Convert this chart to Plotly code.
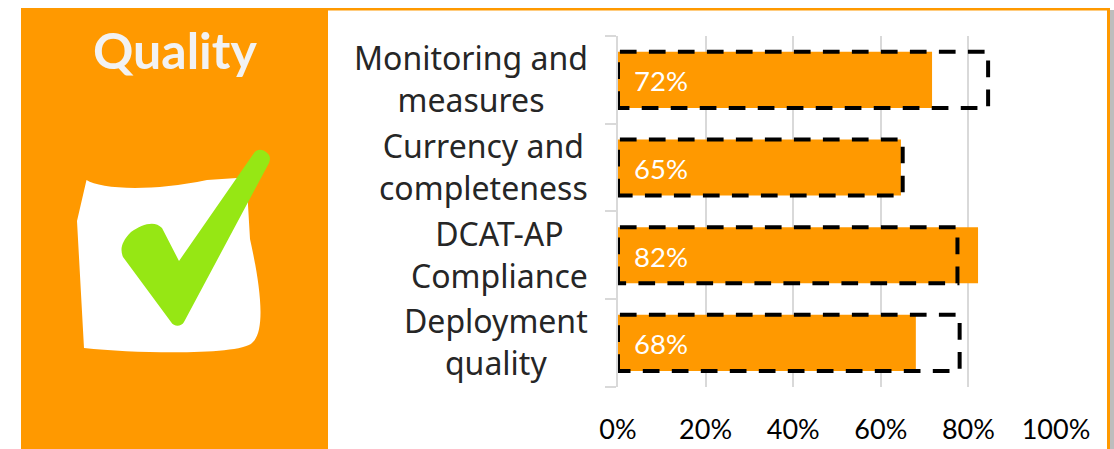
import plotly.graph_objects as go

W, H = 1114, 449
categories = ["Monitoring and<br>measures", "Currency and<br>completeness", "DCAT-AP<br>Compliance", "Deployment<br>quality"]
actual = [71.7, 64.6, 82.2, 68.0]
target = [84.5, 65.0, 77.5, 78.0]
bar_labels = ["72%", "65%", "82%", "68%"]
x_ticks = [0, 20, 40, 60, 80, 100]
x_tick_labels = ["0%", "20%", "40%", "60%", "80%", "100%"]
title = "Quality"

ORANGE = "#FF9900"
GRID = "#D9D9D9"
BAR_WIDTH = 0.64
idx = list(range(len(categories)))

fig = go.Figure()
fig.add_trace(go.Bar(y=idx, x=actual, orientation="h", width=BAR_WIDTH,
                     marker=dict(color=ORANGE, line=dict(width=0)),
                     hoverinfo="x+y", showlegend=False))
for i, t in zip(idx, target):
    top, bot = i - BAR_WIDTH / 2, i + BAR_WIDTH / 2
    fig.add_trace(go.Scatter(x=[0, 0, t, t, 0], y=[bot, top, top, bot, bot], mode="lines",
                             line=dict(color="black", width=4, dash="16.7px,12.3px"),
                             showlegend=False, hoverinfo="skip"))
# Full-window overlay axes, used for the decorative panel only
fig.add_trace(go.Scatter(x=[None], y=[None], xaxis="x2", yaxis="y2", showlegend=False, hoverinfo="skip"))

annotations = []
for i, c, lab in zip(idx, categories, bar_labels):
    annotations.append(dict(x=0, y=i, xref="x", yref="y", text=lab, showarrow=False, xanchor="left",
                            xshift=14, yshift=-1, font=dict(family="Lato", size=27.5, color="white")))
    annotations.append(dict(x=590, y=i, xref="x2", yref="y", text=c, showarrow=False, xanchor="right",
                            align="center", yshift=1, font=dict(family="Noto Sans", size=32, color="#262626")))
annotations.append(dict(x=175, y=50, xref="x2", yref="y2", text="<b>" + title + "</b>", showarrow=False,
                        font=dict(family="Lato", size=50, color="#F2F2F2")))

paper = ("M86.5,180 C100,189 150,192 207,180 L237,178 L248,178 L248,205 L250,239 "
         "C258,275 268,330 252,343 C240,355 140,354 84,348 L77,221 Z")
check = ("M254,153 C257,149 262,149 266,152 C270,155 271,158 269,163 L184,322 "
         "C181,327 174,327 171,322 L123,257 C120,250 121,242 131,232 C142,224 155,220 162,228 L179,261 Z")
line0 = dict(width=0)
shapes = [
    dict(type="rect", xref="x2", yref="y2", x0=1110, x1=1114, y0=10, y1=449, fillcolor="#BDBDBD", line=line0),
    dict(type="rect", xref="x2", yref="y2", x0=328, x1=1110, y0=8, y1=10.5, fillcolor=ORANGE, line=line0),
    dict(type="rect", xref="x2", yref="y2", x0=1107, x1=1110, y0=8, y1=449, fillcolor=ORANGE, line=line0),
    dict(type="rect", xref="x2", yref="y2", x0=21, x1=328, y0=8, y1=449, fillcolor=ORANGE, line=line0),
    dict(type="path", xref="x2", yref="y2", path=paper, fillcolor="white", line=line0),
    dict(type="path", xref="x2", yref="y2", path=check, fillcolor="#96E714", line=line0),
]

fig.update_layout(
    width=W, height=H, autosize=False,
    margin=dict(l=0, r=0, t=0, b=0, pad=0), paper_bgcolor="white", plot_bgcolor="rgba(0,0,0,0)",
    barmode="overlay", shapes=shapes, annotations=annotations,
    xaxis=dict(domain=[618 / W, 1056 / W], range=[0, 100], tickvals=x_ticks, ticktext=x_tick_labels,
               showgrid=True, gridcolor=GRID, gridwidth=1.5, zeroline=False, showline=False, ticks="",
               anchor="y", automargin=False, ticklabelstandoff=24, tickfont=dict(family="Lato", size=27, color="#000000")),
    yaxis=dict(domain=[1 - 386.7 / H, 1 - 36 / H], range=[3.5, -0.5], tickvals=[-0.5, 0.5, 1.5, 2.5, 3.5],
               ticktext=[""] * 5, ticks="outside", ticklen=11, tickcolor=GRID, tickwidth=1.5, automargin=False,
               showgrid=False, zeroline=False, showline=True, linecolor=GRID, linewidth=1.5, anchor="x"),
    xaxis2=dict(domain=[0, 1], range=[0, W], visible=False, anchor="y2", fixedrange=True, automargin=False),
    yaxis2=dict(domain=[0, 1], range=[H, 0], visible=False, anchor="x2", fixedrange=True, automargin=False),
)
fig.write_html("out.html", config={"displayModeBar": False},
               post_script="document.body.style.margin='0';document.body.style.overflow='hidden';")
